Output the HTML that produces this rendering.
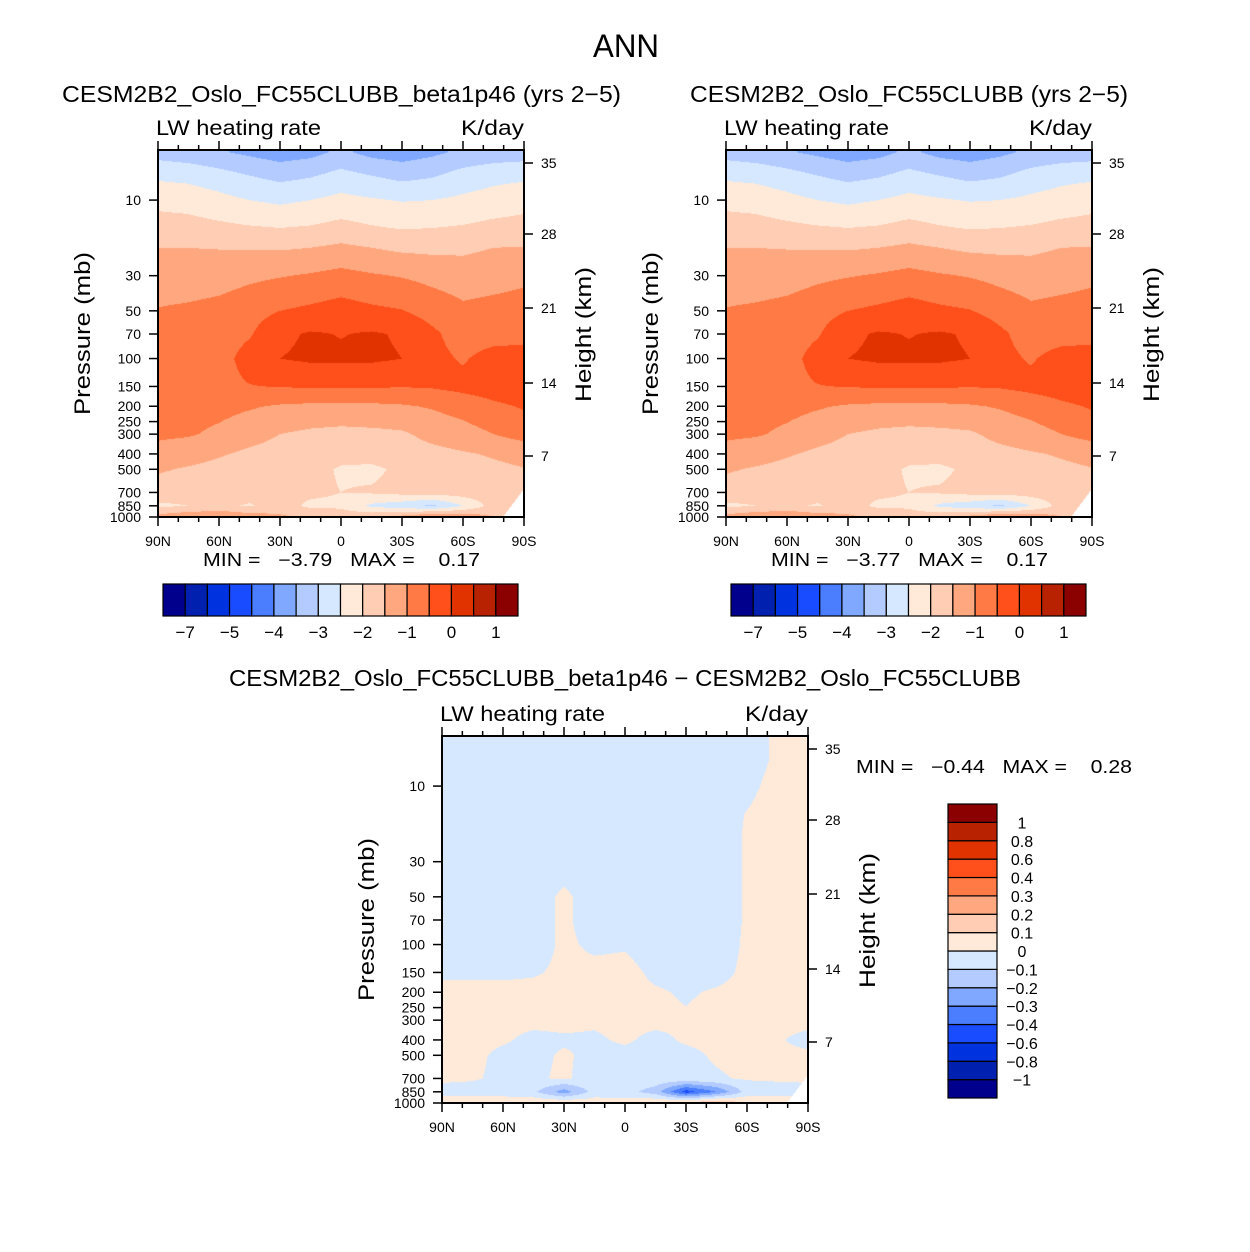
<!DOCTYPE html>
<html><head><meta charset="utf-8">
<style>
html,body{margin:0;padding:0;background:#fff;}
#wrap{position:relative;width:1250px;height:1252px;overflow:hidden;font-family:"Liberation Sans",sans-serif;}
canvas{position:absolute;}
svg{position:absolute;left:0;top:0;}
text{font-family:"Liberation Sans",sans-serif;fill:#000;white-space:pre;}
</style></head>
<body>
<div id="wrap">
<canvas id="c1" width="366" height="367" style="left:158px;top:150px"></canvas>
<canvas id="c2" width="366" height="367" style="left:726px;top:150px"></canvas>
<canvas id="c3" width="366" height="367" style="left:442px;top:736px"></canvas>
<svg id="s" width="1250" height="1252">
<text x="626" y="57" font-size="32" text-anchor="middle" textLength="66" lengthAdjust="spacingAndGlyphs">ANN</text>
</svg>
</div>
<script>
// ---- data ----
const lats = [90,75,60,45,30,15,0,-15,-30,-45,-60,-75,-90];
const pres = [5,7,10,15,20,30,50,70,100,150,200,300,400,500,700,850,1000];
const field1 = [
[-3.2,-3.3,-3.45,-3.6,-3.75,-3.65,-3.4,-3.65,-3.75,-3.6,-3.4,-3.3,-3.25],
[-2.6,-2.65,-2.8,-3.0,-3.15,-3.05,-2.83,-3.0,-3.15,-3.05,-2.8,-2.65,-2.6],
[-2.15,-2.2,-2.35,-2.5,-2.6,-2.5,-2.36,-2.45,-2.53,-2.5,-2.4,-2.3,-2.2],
[-1.77,-1.8,-1.88,-1.95,-2.0,-1.95,-1.83,-1.95,-2.03,-2.0,-1.95,-1.85,-1.8],
[-1.5,-1.5,-1.52,-1.54,-1.55,-1.5,-1.4,-1.5,-1.6,-1.62,-1.6,-1.5,-1.48],
[-1.27,-1.25,-1.2,-1.1,-1.03,-0.95,-0.85,-0.95,-1.03,-1.15,-1.25,-1.18,-1.1],
[-0.97,-0.92,-0.85,-0.7,-0.5,-0.4,-0.28,-0.4,-0.48,-0.7,-0.9,-0.85,-0.8],
[-0.9,-0.85,-0.75,-0.55,-0.1,0.05,-0.02,0.05,-0.05,-0.4,-0.75,-0.7,-0.65],
[-0.85,-0.8,-0.7,-0.3,0.0,0.08,0.08,0.08,0.0,-0.35,-0.55,-0.3,-0.3],
[-0.8,-0.75,-0.65,-0.52,-0.48,-0.45,-0.45,-0.45,-0.48,-0.45,-0.35,-0.25,-0.2],
[-0.8,-0.8,-0.85,-0.95,-1.05,-1.1,-1.12,-1.1,-1.05,-0.95,-0.8,-0.6,-0.45],
[-0.9,-0.95,-1.1,-1.3,-1.5,-1.6,-1.65,-1.62,-1.57,-1.35,-1.2,-1.0,-0.8],
[-1.2,-1.3,-1.45,-1.6,-1.7,-1.8,-1.85,-1.8,-1.75,-1.65,-1.55,-1.45,-1.35],
[-1.45,-1.55,-1.65,-1.75,-1.8,-1.85,-2.05,-2.1,-1.9,-1.8,-1.7,-1.6,-1.52],
[-1.7,-1.75,-1.8,-1.8,-1.85,-1.9,-2.0,-1.95,-1.85,-1.8,-1.75,-1.7,-1.6],
[-2.1,-2.0,-1.9,-2.05,-1.8,-2.1,-2.1,-2.6,-2.8,-3.1,-2.5,-1.8,-1.6],
[-1.3,-1.1,-1.0,-1.2,-1.4,-1.6,-1.7,-1.6,-1.3,-0.9,-1.1,-1.5,-1.6]];
const field2 = [
[-3.2,-3.3,-3.45,-3.6,-3.75,-3.65,-3.4,-3.65,-3.75,-3.6,-3.4,-3.3,-3.25],
[-2.6,-2.65,-2.8,-3.0,-3.15,-3.05,-2.83,-3.0,-3.15,-3.05,-2.8,-2.65,-2.6],
[-2.15,-2.2,-2.35,-2.5,-2.6,-2.5,-2.36,-2.45,-2.53,-2.5,-2.4,-2.3,-2.2],
[-1.77,-1.8,-1.88,-1.95,-2.0,-1.95,-1.83,-1.95,-2.03,-2.0,-1.95,-1.85,-1.8],
[-1.5,-1.5,-1.52,-1.54,-1.55,-1.5,-1.4,-1.5,-1.6,-1.62,-1.6,-1.5,-1.48],
[-1.27,-1.25,-1.2,-1.1,-1.03,-0.95,-0.85,-0.95,-1.03,-1.15,-1.25,-1.18,-1.1],
[-0.97,-0.92,-0.85,-0.7,-0.5,-0.4,-0.28,-0.4,-0.48,-0.7,-0.9,-0.85,-0.8],
[-0.9,-0.85,-0.75,-0.55,-0.1,0.05,-0.02,0.05,-0.05,-0.4,-0.75,-0.7,-0.65],
[-0.85,-0.8,-0.7,-0.3,0.0,0.08,0.08,0.08,0.0,-0.35,-0.55,-0.3,-0.3],
[-0.8,-0.75,-0.65,-0.52,-0.48,-0.45,-0.45,-0.45,-0.48,-0.45,-0.35,-0.25,-0.2],
[-0.8,-0.8,-0.85,-0.95,-1.05,-1.1,-1.12,-1.1,-1.05,-0.95,-0.8,-0.6,-0.45],
[-0.9,-0.95,-1.1,-1.3,-1.5,-1.6,-1.65,-1.62,-1.57,-1.35,-1.2,-1.0,-0.8],
[-1.2,-1.3,-1.45,-1.6,-1.7,-1.8,-1.85,-1.8,-1.75,-1.65,-1.55,-1.45,-1.35],
[-1.45,-1.55,-1.65,-1.75,-1.8,-1.85,-2.05,-2.1,-1.9,-1.8,-1.7,-1.6,-1.52],
[-1.7,-1.75,-1.8,-1.8,-1.85,-1.9,-2.0,-1.95,-1.85,-1.8,-1.75,-1.7,-1.6],
[-2.1,-2.0,-1.9,-2.05,-1.8,-2.1,-2.1,-2.6,-2.8,-3.1,-2.5,-1.8,-1.6],
[-1.3,-1.1,-1.0,-1.2,-1.4,-1.6,-1.7,-1.6,-1.3,-0.9,-1.1,-1.5,-1.6]];
const field3 = [
[-0.05,-0.05,-0.05,-0.05,-0.05,-0.05,-0.05,-0.05,-0.05,-0.05,-0.05,0.02,0.05],
[-0.05,-0.05,-0.05,-0.05,-0.05,-0.05,-0.05,-0.05,-0.05,-0.05,-0.05,0.02,0.05],
[-0.05,-0.05,-0.05,-0.05,-0.05,-0.05,-0.05,-0.05,-0.05,-0.05,-0.03,0.04,0.05],
[-0.05,-0.05,-0.05,-0.05,-0.05,-0.05,-0.05,-0.05,-0.05,-0.05,0.005,0.05,0.05],
[-0.05,-0.05,-0.05,-0.05,-0.05,-0.05,-0.05,-0.05,-0.05,-0.05,0.01,0.05,0.05],
[-0.05,-0.05,-0.05,-0.05,-0.05,-0.05,-0.05,-0.05,-0.05,-0.05,0.01,0.05,0.05],
[-0.05,-0.05,-0.05,-0.05,0.02,-0.05,-0.05,-0.05,-0.05,-0.05,0.01,0.05,0.05],
[-0.05,-0.05,-0.05,-0.05,0.02,-0.05,-0.05,-0.05,-0.05,-0.05,0.01,0.05,0.05],
[-0.05,-0.05,-0.05,-0.05,0.02,-0.02,-0.01,-0.05,-0.05,-0.05,0.015,0.05,0.05],
[-0.02,-0.02,-0.02,-0.01,0.02,0.03,0.03,-0.02,-0.03,-0.03,0.02,0.05,0.05],
[0.03,0.03,0.03,0.03,0.03,0.03,0.03,0.01,-0.01,0.01,0.03,0.05,0.05],
[0.02,0.03,0.02,0.02,0.02,0.01,0.02,0.02,0.01,0.03,0.03,0.03,0.03],
[0.02,0.03,0.01,-0.02,-0.01,-0.01,0.01,-0.02,0.01,0.02,0.03,0.01,-0.03],
[0.03,0.02,-0.02,-0.02,0.01,-0.02,-0.02,-0.03,-0.02,0.01,0.03,0.02,0.02],
[0.02,0.01,-0.02,-0.01,0.01,-0.03,-0.03,-0.03,-0.02,-0.01,0.01,0.01,0.01],
[-0.04,-0.04,-0.04,-0.08,-0.25,-0.06,-0.06,-0.15,-0.45,-0.3,-0.06,-0.03,-0.02],
[0.08,0.08,0.06,0.08,0.1,0.06,0.05,0.1,0.15,0.2,0.1,0.05,0.05]];
const levels12 = [-7,-6,-5,-4.5,-4,-3.5,-3,-2.5,-2,-1.5,-1,-0.5,0,0.5,1];
const levels3 = [-1,-0.8,-0.6,-0.4,-0.3,-0.2,-0.1,0,0.1,0.2,0.3,0.4,0.6,0.8,1];
const cbLabels12 = ["−7","−5","−4","−3","−2","−1","0","1"];
const cbLabels3 = ["−1","−0.8","−0.6","−0.4","−0.3","−0.2","−0.1","0","0.1","0.2","0.3","0.4","0.6","0.8","1"];
const latTicks = ["90N","60N","30N","0","30S","60S","90S"];
const presTicks = [10,30,50,70,100,150,200,250,300,400,500,700,850,1000];
const kmTicks = [35,28,21,14,7];
const kmY = [13,84,158,233,306];
const colors = ["#00008c","#0020b0","#0033e0","#1a4cff","#4a7dff","#80a8ff","#b3cbff","#d6e8ff","#ffeada","#ffcdb3","#ffa880","#ff7a45","#ff4f1a","#e03300","#b82200","#8b0000"];

const W=366,H=367,PTOP=Math.log10(4.83);
function yOfP(p){return H*(Math.log10(p)-PTOP)/(3-PTOP);}
function xOfLat(l){return W*(90-l)/180;}
function hex(c){return [parseInt(c.slice(1,3),16),parseInt(c.slice(3,5),16),parseInt(c.slice(5,7),16)];}
const rgb=colors.map(hex);
const lp=pres.map(p=>Math.log10(p));

function drawField(id,field,levels,mask){
  const cv=document.getElementById(id),ctx=cv.getContext('2d');
  const img=ctx.createImageData(W,H);
  for(let py=0;py<H;py++){
    let L=PTOP+(py+0.5)/H*(3-PTOP);
    if(L<lp[0])L=lp[0];
    let j=0;while(j<lp.length-2&&L>lp[j+1])j++;
    let ty=(L-lp[j])/(lp[j+1]-lp[j]);
    for(let px=0;px<W;px++){
      let lat=90-(px+0.5)/W*180;
      let i=0;while(i<lats.length-2&&lat<lats[i+1])i++;
      let tx=(lats[i]-lat)/(lats[i]-lats[i+1]);
      let v=(1-ty)*((1-tx)*field[j][i]+tx*field[j][i+1])+ty*((1-tx)*field[j+1][i]+tx*field[j+1][i+1]);
      let k=0;while(k<levels.length&&levels[k]<=v)k++;
      let c=rgb[k];
      if(mask&&px>W-22&&py>H-28&&(px-(W-22))>(H-py)*0.75){c=[255,255,255];}
      let o=(py*W+px)*4;img.data[o]=c[0];img.data[o+1]=c[1];img.data[o+2]=c[2];img.data[o+3]=255;
    }
  }
  ctx.putImageData(img,0,0);
}
drawField('c1',field1,levels12,true);
drawField('c2',field2,levels12,true);
drawField('c3',field3,levels3,true);

const svg=document.getElementById('s');
const NS='http://www.w3.org/2000/svg';
function el(tag,attrs,txt){const e=document.createElementNS(NS,tag);for(const k in attrs)e.setAttribute(k,attrs[k]);if(txt!==undefined)e.textContent=txt;svg.appendChild(e);return e;}
const LA='spacingAndGlyphs';

function axes(ox,oy,name,title,tx0,tlen,titleY,minmax,mmX,mmY,mmLen){
  let t=el('text',{x:tx0,y:titleY,'font-size':23,textLength:tlen,lengthAdjust:LA},title);
  
  
  t=el('text',{x:ox-2,y:oy-15,'font-size':21,textLength:165,lengthAdjust:LA},'LW heating rate');
  
  
  t=el('text',{x:ox+W-63,y:oy-15,'font-size':21,textLength:63,lengthAdjust:LA},'K/day');
  
  
  let r=el('rect',{x:ox,y:oy,width:W,height:H,fill:'none',stroke:'#000','stroke-width':2});
  
  
  for(let l=90;l>=-90;l-=10){
    const x=ox+xOfLat(l),maj=(l%30===0),len=maj?9:5;
    let a=el('line',{x1:x,x2:x,y1:oy,y2:oy-len,stroke:'#000','stroke-width':1.5});
    
    
    let b=el('line',{x1:x,x2:x,y1:oy+H,y2:oy+H+len,stroke:'#000','stroke-width':1.5});
    
    
  }
  latTicks.forEach((s,i)=>{
    const x=ox+xOfLat(90-30*i);
    let tt=el('text',{x:x,y:oy+H+29,'font-size':14,'text-anchor':'middle'},s);
    
    
  });
  presTicks.forEach(p=>{
    const y=oy+yOfP(p);
    let a=el('line',{x1:ox,x2:ox-9,y1:y,y2:y,stroke:'#000','stroke-width':1.5});
    
    
    let tt=el('text',{x:ox-17,y:y+5,'font-size':14,'text-anchor':'end'},String(p));
    
    
  });
  kmTicks.forEach((k,i)=>{
    const y=oy+kmY[i];
    let a=el('line',{x1:ox+W,x2:ox+W+9,y1:y,y2:y,stroke:'#000','stroke-width':1.5});
    
    
    let tt=el('text',{x:ox+W+17,y:y+5,'font-size':14},String(k));
    
    
  });
  let yl=el('text',{x:-82,y:0,'font-size':22,textLength:163,lengthAdjust:LA,transform:`translate(${ox-68},${oy+183}) rotate(-90)`},'Pressure (mb)');
  
  
  let hl=el('text',{x:-68,y:0,'font-size':22,textLength:135,lengthAdjust:LA,transform:`translate(${ox+W+67},${oy+184}) rotate(-90)`},'Height (km)');
  
  
  let mm=el('text',{x:mmX,y:mmY,'font-size':18,textLength:mmLen,lengthAdjust:LA},minmax);
  
  
}
axes(158,150,'panel-1','CESM2B2_Oslo_FC55CLUBB_beta1p46 (yrs 2−5)',62,559,102,'MIN =   −3.79   MAX =    0.17',203,566,277);
axes(726,150,'panel-2','CESM2B2_Oslo_FC55CLUBB (yrs 2−5)',690,438,102,'MIN =   −3.77   MAX =    0.17',771,566,277);
axes(442,736,'panel-3','CESM2B2_Oslo_FC55CLUBB_beta1p46 − CESM2B2_Oslo_FC55CLUBB',229,792,686,'MIN =   −0.44   MAX =    0.28',856,773,276);

function hbar(x0,y0,name){
  const bw=(518-163)/16;
  colors.forEach((c,i)=>{
    let r=el('rect',{x:x0+i*bw,y:y0,width:bw,height:32,fill:c,stroke:'#000','stroke-width':1.2});
    
    
  });
  cbLabels12.forEach((s,i)=>{
    let t=el('text',{x:x0+(1+2*i)*bw,y:y0+54,'font-size':17,'text-anchor':'middle'},s);
    
    
  });
}
hbar(163,584,'colorbar-1');
hbar(731,584,'colorbar-2');
(function(){
  const bh=(1098-804)/16;
  colors.forEach((c,i)=>{
    let r=el('rect',{x:948,y:1098-(i+1)*bh,width:49,height:bh,fill:c,stroke:'#000','stroke-width':1.2});
    
    
  });
  cbLabels3.forEach((s,i)=>{
    let t=el('text',{x:1022,y:1098-(i+1)*bh+6,'font-size':16,'text-anchor':'middle'},s);
    
    
  });
})();
</script>
</body></html>
